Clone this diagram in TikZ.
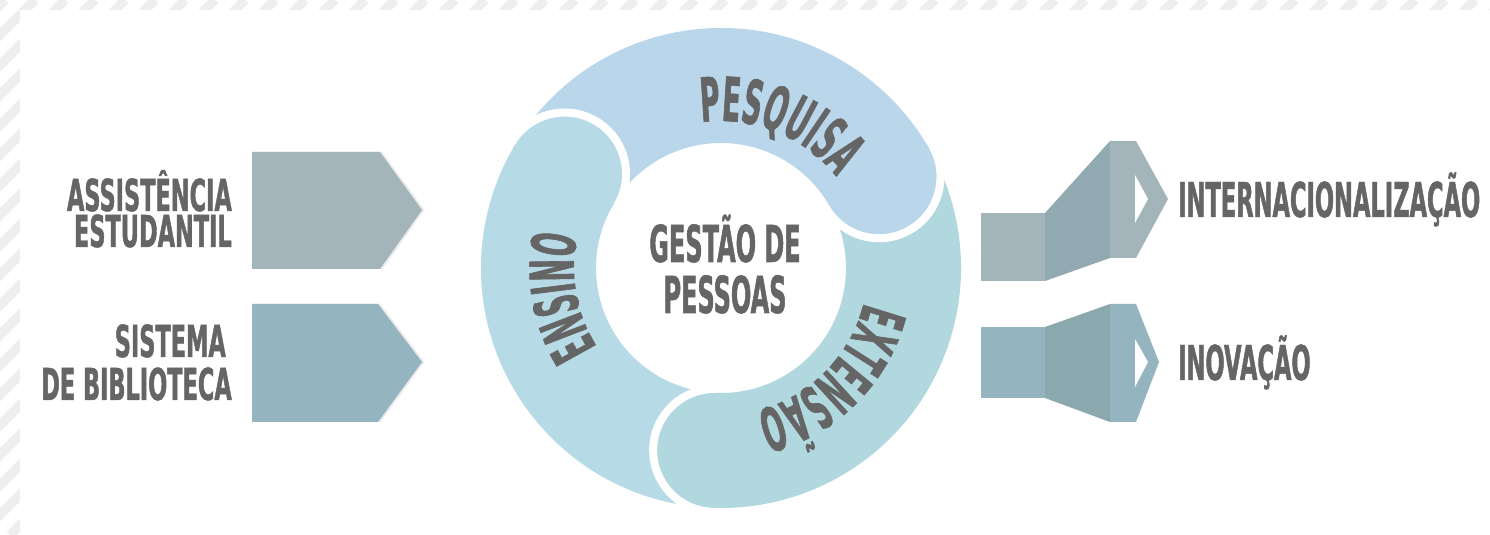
\documentclass[tikz,border=0pt]{standalone}
\usepackage{fontspec}
\usetikzlibrary{decorations.text,shadows}
\newfontfamily\condfont[FakeStretch=0.47,FakeBold=1]{DejaVu Sans Bold}
\newfontfamily\leftfont[FakeStretch=0.51,FakeBold=1]{DejaVu Sans Bold}
\newfontfamily\ringfam[FakeStretch=0.44,FakeBold=1]{DejaVu Sans Bold}
\definecolor{txt}{HTML}{656565}
\definecolor{stripegray}{HTML}{EEEEEE}
\definecolor{boxA}{HTML}{A3B5BA}
\definecolor{boxB}{HTML}{94B4C0}
\definecolor{midA}{HTML}{91AAB2}
\definecolor{midB}{HTML}{8AA8AD}
\definecolor{pesq}{HTML}{B9D6EA}
\definecolor{ens}{HTML}{B6DBE6}
\definecolor{ext}{HTML}{B0D8DE}
\tikzset{
  stripe/.style={draw=stripegray, line width=9.5pt},
  tagshadow/.style={drop shadow={shadow xshift=2.5pt, shadow yshift=0pt, opacity=0.08, fill=black}},
  gap/.style={draw=white, line width=8pt},
  lbl/.style={text=txt, inner sep=0pt, font=\leftfont\fontsize{44}{44}\selectfont},
  ctr/.style={text=txt, inner sep=0pt, font=\condfont\fontsize{51}{51}\selectfont},
  rlbl/.style={text=txt, inner sep=0pt, font=\condfont\fontsize{48}{48}\selectfont},
  ringtext/.style={decorate, decoration={text along path, text align=center, text color=txt, text={#1}}},
}
\newcommand{\ringfont}{\ringfam\fontsize{61}{61}\selectfont}
\begin{document}
\begin{tikzpicture}[x=1pt,y=1pt]
\useasboundingbox (0,0) rectangle (1490,535);
% striped border
\fill[white] (0,0) rectangle (1490,535);
\begin{scope}
  \clip (0,0) rectangle (1490,535);
  \foreach \k in {-560,-530,...,1500} \draw[stripe] (\k,0) -- ++(535,535);
\end{scope}
\fill[white] (20,0) rectangle (1490,525);

% left tags
\fill[boxA, tagshadow] (252,383) -- (380,383) -- (422,325) -- (380,266) -- (252,266) -- cycle;
\fill[boxB, tagshadow] (252,231) -- (378,231) -- (422,173) -- (378,113) -- (252,113) -- cycle;
\node[lbl, anchor=base east] (as1) at (232,324) {ASSISTÊNCIA};
\node[lbl, anchor=base east] (as2) at (232,288) {ESTUDANTIL};
\node[lbl, anchor=base east] (sb1) at (226,178) {SISTEMA};
\node[lbl, anchor=base east] (sb2) at (232,135) {DE BIBLIOTECA};

% ring
\begin{scope}[shift={(721,267)}]
  \fill[pesq] (150:240) arc[start angle=150,end angle=30,radius=240] -- (30:125) arc[start angle=30,end angle=150,radius=125] -- cycle;
  \fill[ext] (30:240) arc[start angle=30,end angle=-92,radius=240] -- (-92:125) arc[start angle=-92,end angle=30,radius=125] -- cycle;
  \fill[ens] (268:240) arc[start angle=268,end angle=149,radius=240] -- (149:125) arc[start angle=149,end angle=268,radius=125] -- cycle;
  % heads (with a small backward overlap to hide seams)
  \fill[pesq] (31:240) arc[start angle=31,end angle=30,radius=240] arc[start angle=30,end angle=-150,radius=57.5] arc[start angle=30,end angle=31,radius=125] -- cycle;
  \draw[gap] (30:244) arc[start angle=30,end angle=-150,radius=61.5];
  \fill[ens] (150:240) arc[start angle=150,end angle=149,radius=240] arc[start angle=149,end angle=-31,radius=57.5] arc[start angle=149,end angle=150,radius=125] -- cycle;
  \draw[gap] (149:244) arc[start angle=149,end angle=-31,radius=61.5];
  \fill[ext] (-91:240) arc[start angle=-91,end angle=-92,radius=240] arc[start angle=-92,end angle=-272,radius=57.5] arc[start angle=-92,end angle=-91,radius=125] -- cycle;
  \draw[gap] (-92:244) arc[start angle=-92,end angle=-272,radius=61.5];
  % ring labels
  \path[ringtext={|\ringfont|PESQUISA}] (128:147) arc[start angle=128,end angle=8,radius=147];
  \path[ringtext={|\ringfont|ENSINO}] (250:147) arc[start angle=250,end angle=130,radius=147];
  \path[ringtext={|\ringfont|EXTENSÃO}] (15:147) arc[start angle=15,end angle=-105,radius=147];
\end{scope}
\node[ctr, anchor=base] (g1) at (725,273) {GESTÃO DE};
\node[ctr, anchor=base] (g2) at (725,222) {PESSOAS};

% right arrows
\fill[boxA] (981,322) rectangle (1045,254);
\fill[midA] (1045,322) -- (1110,394) -- (1110,277) -- (1045,254) -- cycle;
\fill[boxA] (1110,394) -- (1136,394) -- (1168,336) -- (1136,277) -- (1110,277) -- cycle;
\fill[white] (1135,360) -- (1148,336) -- (1135,312) -- cycle;
\fill[boxB] (981,208) rectangle (1045,137);
\fill[midB] (1045,208) -- (1110,231) -- (1110,113) -- (1045,137) -- cycle;
\fill[boxB] (1110,231) -- (1136,231) -- (1159,173) -- (1136,113) -- (1110,113) -- cycle;
\fill[white] (1135,196) -- (1148,173) -- (1135,148) -- cycle;
\node[rlbl, anchor=base west] (int) at (1178,318) {INTERNACIONALIZAÇÃO};
\node[rlbl, anchor=base west] (ino) at (1178,155) {INOVAÇÃO};
\end{tikzpicture}
\end{document}
